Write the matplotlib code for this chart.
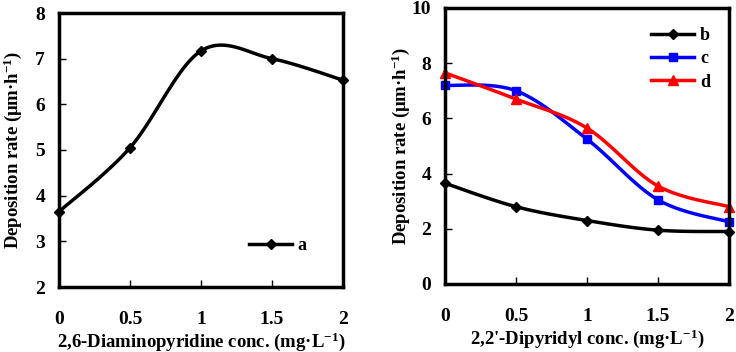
import numpy as np
import matplotlib.pyplot as plt

conc = [0, 0.5, 1, 1.5, 2]
rate_a = [3.65, 5.05, 7.17, 7.0, 6.53]
rate_b = [3.65, 2.8, 2.3, 1.95, 1.9]
rate_c = [7.2, 7.0, 5.25, 3.05, 2.25]
rate_d = [7.65, 6.7, 5.65, 3.55, 2.8]

plt.rcParams['font.family'] = ['Liberation Serif', 'DejaVu Serif']
plt.rcParams['font.weight'] = 'bold'
plt.rcParams['axes.labelweight'] = 'bold'
plt.rcParams['mathtext.fontset'] = 'custom'
plt.rcParams['mathtext.rm'] = 'Liberation Serif:bold'
plt.rcParams['mathtext.bf'] = 'Liberation Serif:bold'
plt.rcParams['mathtext.default'] = 'rm'


def smooth(x, y, n=30):
    # Bezier smoothing through the points, like Excel's smoothed lines
    x = np.asarray(x, float)
    y = np.asarray(y, float)
    px = np.concatenate([[x[0]], x, [x[-1]]])
    py = np.concatenate([[y[0]], y, [y[-1]]])
    xs, ys = [], []
    for i in range(1, len(px) - 2):
        p0, p1, p2, p3 = (np.array([px[j], py[j]]) for j in (i - 1, i, i + 1, i + 2))
        c1 = p1 + (p2 - p0) / 6
        c2 = p2 - (p3 - p1) / 6
        t = np.linspace(0, 1, n)[:, None]
        pts = (1 - t) ** 3 * p1 + 3 * (1 - t) ** 2 * t * c1 + 3 * (1 - t) * t ** 2 * c2 + t ** 3 * p2
        xs.extend(pts[:, 0])
        ys.extend(pts[:, 1])
    return xs, ys


def series(ax, x, y, color, marker, label, ms=6):
    sx, sy = smooth(x, y)
    ax.plot(sx, sy, color=color, lw=2.5, clip_on=False)
    ax.plot(x, y, linestyle='none', marker=marker, color=color, ms=ms, clip_on=False)
    ax.plot([], [], color=color, lw=2.5, marker=marker, ms=ms, label=label)


def style(ax):
    for s in ax.spines.values():
        s.set_linewidth(2.5)
    ax.tick_params(direction='in', length=5, width=1, labelsize=14,
                   top=False, right=False)
    ax.tick_params(axis='x', pad=17)
    ax.tick_params(axis='y', pad=10)
    ax.set_xlim(0, 2)
    ax.set_xticks(conc)
    ax.set_xticklabels(['0', '0.5', '1', '1.5', '2'])


fig = plt.figure(figsize=(7.36, 3.52), dpi=100)
ax1 = fig.add_axes([59 / 736, 1 - 287 / 352, 284 / 736, 274 / 352])
ax2 = fig.add_axes([445 / 736, 1 - 284 / 352, 284 / 736, 276 / 352])

ylab = 'Deposition rate (μm·h$^{-1}$)'

series(ax1, conc, rate_a, 'black', 'D', 'a', ms=5.5)
style(ax1)
ax1.set_ylim(2, 8)
ax1.set_ylabel(ylab, fontsize=13.5, labelpad=8)
ax1.set_xlabel('2,6-Diaminopyridine conc. (mg·L$^{-1}$)', fontsize=13.5, labelpad=2)
ax1.legend(loc='lower right', frameon=False, fontsize=13, handlelength=2.4,
           handletextpad=0.3, bbox_to_anchor=(0.93, 0.06))

series(ax2, conc, rate_b, 'black', 'D', 'b', ms=5.5)
series(ax2, conc, rate_c, '#0000ff', 's', 'c', ms=5.5)
series(ax2, conc, rate_d, '#ff0000', '^', 'd', ms=7)
style(ax2)
ax2.set_ylim(0, 10)
ax2.set_yticks([0, 2, 4, 6, 8, 10])
ax2.set_ylabel(ylab, fontsize=13.5, labelpad=0)
ax2.set_xlabel("2,2'-Dipyridyl conc. (mg·L$^{-1}$)", fontsize=13.5, labelpad=2)
ax2.legend(loc='upper right', frameon=False, fontsize=13, handlelength=2.4,
           handletextpad=0.3, labelspacing=0.35, bbox_to_anchor=(0.99, 0.99))

fig.savefig('out.png', dpi=100)
